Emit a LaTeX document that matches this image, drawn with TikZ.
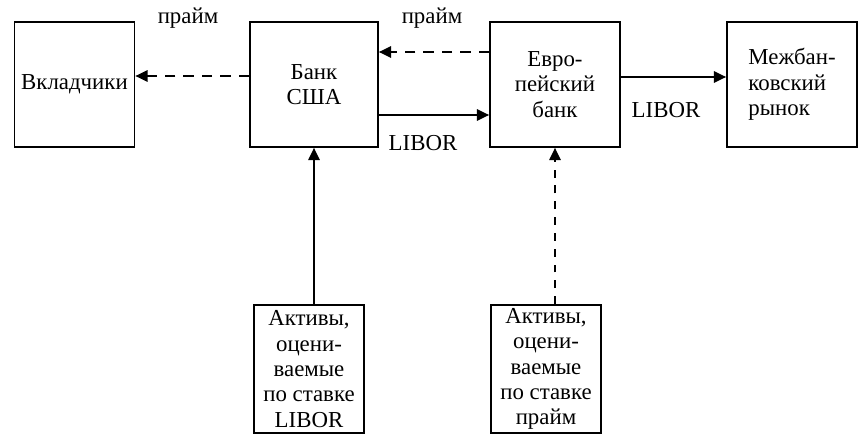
\documentclass[tikz,border=0pt]{standalone}
\usepackage{fontspec}
\setmainfont{Liberation Serif}
\usetikzlibrary{arrows.meta,calc}
\tikzset{
  bbox/.style={draw,line width=1pt,inner sep=2pt,align=center,
    font=\fontsize{13}{14.4}\selectfont},
  topbox/.style={bbox,minimum width=2.56cm,minimum height=2.5cm},
  assetbox/.style={bbox,minimum width=2.2cm,minimum height=2.56cm},
  rlabel/.style={font=\fontsize{13}{14.4}\selectfont,inner sep=0pt},
  sedge/.style={-{Triangle[length=7pt,width=6.5pt]},line width=1pt},
  dedge/.style={sedge,dash pattern=on 6pt off 4.5pt},
  vdedge/.style={sedge,dash pattern=on 4.5pt off 4.5pt},
}
\begin{document}
\begin{tikzpicture}[x=0.02cm,y=-0.02cm]
  \useasboundingbox (0,0) rectangle (859,436);
  % top row
  \node[topbox,minimum width=2.4cm] (dep) at (74.5,84.5){Вкладчики};
  \node[topbox] (usb) at (314,84.5){Банк\\США};
  \node[topbox,minimum width=2.6cm] (euro) at (555,84.5){Евро-\\пейский\\банк};
  \node[topbox,minimum width=2.6cm,align=left] (ibm) at (792,84.5){Межбан-\\ковский\\рынок};
  % assets
  \node[assetbox] (actL) at (309,369){Активы,\\оцени-\\ваемые\\по ставке\\LIBOR};
  \node[assetbox] (actP) at (546,369){Активы,\\оцени-\\ваемые\\по ставке\\прайм};

  % rate labels
  \node[rlabel] (p1) at (188,18){прайм};
  \node[rlabel] (p2) at (432,18){прайм};
  \node[rlabel] (l1) at (423,143){LIBOR};
  \node[rlabel] (l2) at (666,110){LIBOR};

  \draw[dedge] ($(usb.west)+(0,-8.5)$) -- ($(dep.east)+(0,-8.5)$);
  \draw[dedge] ($(euro.west)+(0,-32.5)$) -- ($(usb.east)+(0,-32.5)$);
  \draw[sedge] ($(usb.east)+(0,30.5)$) -- ($(euro.west)+(0,30.5)$);
  \draw[sedge] ($(euro.east)+(0,-7.5)$) -- ($(ibm.west)+(0,-7.5)$);
  \draw[sedge] (usb.south |- actL.north) -- (usb.south);
  \draw[vdedge] (euro.south |- actP.north) -- (euro.south);
\end{tikzpicture}
\end{document}
